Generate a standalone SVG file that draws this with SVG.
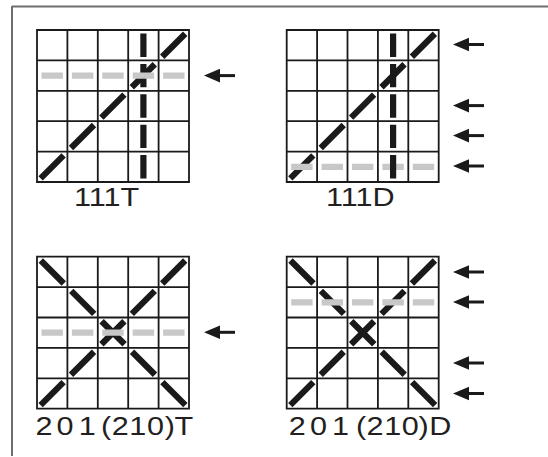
<svg xmlns="http://www.w3.org/2000/svg" width="548" height="457" viewBox="0 0 548 457">
<style>
.frame{fill:none;stroke:#6e6e6e;stroke-width:2}
.grid{fill:none;stroke:#1a1a1a;stroke-width:1.8}
.blk{fill:none;stroke:#1a1a1a;stroke-width:6.2;stroke-linecap:butt}
.gry{fill:none;stroke:#c8c8c8;stroke-width:6.2;stroke-linecap:butt}
.lbl{font-family:"Liberation Sans",Arial,sans-serif;font-size:25.5px;fill:#231f20}
.shaft{stroke:#1a1a1a;stroke-width:3}
.head{fill:#1a1a1a}
</style>
<defs>
<path id="gridp" class="grid" d="M0,0H152V152H0Z M30.4,0V152 M60.8,0V152 M91.2,0V152 M121.6,0V152 M0,30.4H152 M0,60.8H152 M0,91.2H152 M0,121.6H152"/>
<g id="arrow">
<line class="shaft" x1="14" y1="0" x2="31" y2="0"/>
<path class="head" d="M0,0L16,-6.8L16,6.8Z"/>
</g>
<path id="diag111" class="blk" d="M3.6,148.4L26.6,125.4 M34,118L57,95 M64.4,87.6L87.4,64.6 M94.8,57.2L117.8,34.2 M125.2,26.8L148.2,3.8"/>
<path id="vert111" class="blk" d="M106.4,3.5V26.9 M106.4,33.9V57.3 M106.4,64.3V87.7 M106.4,94.7V118.1 M106.4,125.1V148.5"/>
<path id="x201" class="blk" d="M3.8,3.8L26.8,26.8 M34.2,34.2L57.2,57.2 M64.6,64.6L87.6,87.6 M95,95L118,118 M125.4,125.4L148.4,148.4 M3.6,148.4L26.6,125.4 M34,118L57,95 M64.4,87.6L87.4,64.6 M94.8,57.2L117.8,34.2 M125.2,26.8L148.2,3.8"/>
<path id="grey" class="gry" d="M4.5,0H25.9 M34.9,0H56.3 M65.3,0H86.7 M95.7,0H117.1 M126.1,0H147.5"/>
</defs>

<g id="frame">
<line class="frame" x1="12" y1="6.5" x2="548" y2="6.5"/>
<line class="frame" x1="12" y1="6" x2="12" y2="456"/>
</g>

<g id="node-111T" transform="translate(37,30)">
<use href="#gridp"/>
<use href="#diag111"/>
<use href="#vert111"/>
<use href="#grey" transform="translate(0,45.6)"/>
</g>
<g id="node-111D" transform="translate(286.7,30)">
<use href="#gridp"/>
<use href="#diag111"/>
<use href="#grey" transform="translate(0,136.8)"/>
<use href="#vert111"/>
</g>
<g id="node-201T" transform="translate(37,256.7)">
<use href="#gridp"/>
<use href="#x201"/>
<use href="#grey" transform="translate(0,76)"/>
</g>
<g id="node-201D" transform="translate(286.7,256.7)">
<use href="#gridp"/>
<use href="#x201"/>
<use href="#grey" transform="translate(0,45.6)"/>
</g>

<g id="labels">
<text class="lbl" transform="translate(74,206) scale(1.2,1)">111T</text>
<text class="lbl" transform="translate(326,206) scale(1.2,1)">111D</text>
<text class="lbl" transform="translate(35.5,435) scale(1.2,1)" x="0 17.6 36.1 49.6 54.5 63.5 78.2 92.9 107.8 115.8">201 (210)T</text>
<text class="lbl" transform="translate(288.8,435) scale(1.2,1)" x="0 17.6 36.1 49.6 56 64.8 79.5 94.2 108 117.1">201 (210)D</text>
</g>

<g id="connectors">
<use href="#arrow" transform="translate(204,75.6)"/>
<use href="#arrow" transform="translate(453,44.5)"/>
<use href="#arrow" transform="translate(453,105.6)"/>
<use href="#arrow" transform="translate(453,135.6)"/>
<use href="#arrow" transform="translate(453,166)"/>
<use href="#arrow" transform="translate(204,332.3)"/>
<use href="#arrow" transform="translate(453,272)"/>
<use href="#arrow" transform="translate(453,302)"/>
<use href="#arrow" transform="translate(453,363)"/>
<use href="#arrow" transform="translate(453,393.5)"/>
</g>
</svg>
